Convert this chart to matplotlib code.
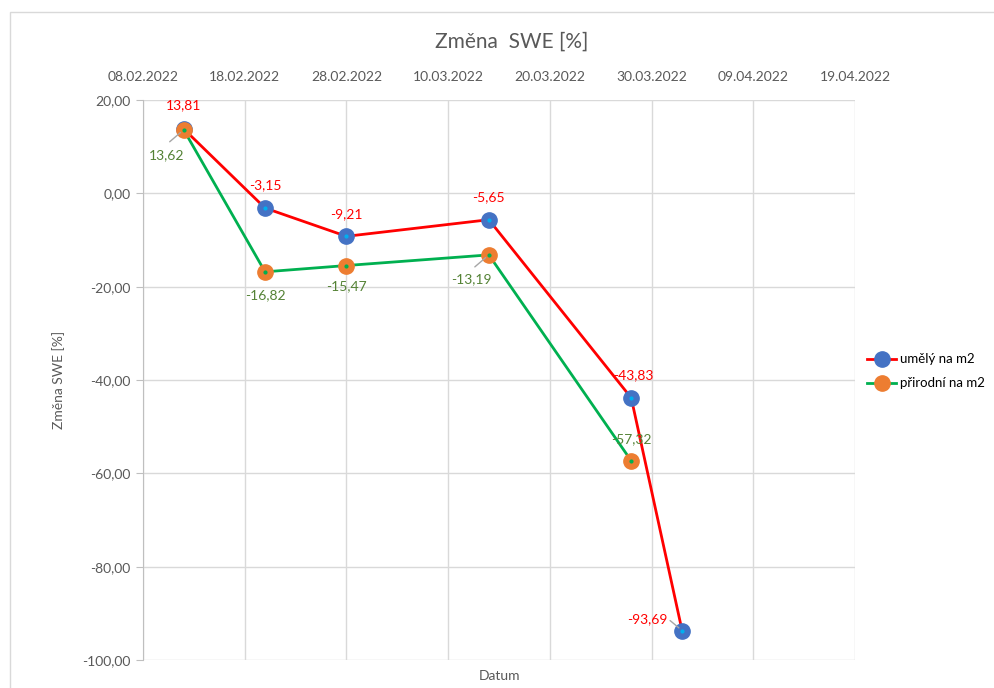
import matplotlib
matplotlib.use("Agg")
import matplotlib.pyplot as plt
import matplotlib.dates as mdates
from matplotlib.ticker import FuncFormatter, MultipleLocator, FixedLocator
from matplotlib.patches import Rectangle
from datetime import datetime, timedelta

plt.rcParams['font.family'] = ['Lato', 'DejaVu Sans']

# data
dates_umely = ["12.02.2022", "20.02.2022", "28.02.2022", "14.03.2022", "28.03.2022", "02.04.2022"]
umely = [13.81, -3.15, -9.21, -5.65, -43.83, -93.69]
dates_prirodni = ["12.02.2022", "20.02.2022", "28.02.2022", "14.03.2022", "28.03.2022"]
prirodni = [13.62, -16.82, -15.47, -13.19, -57.32]

# label offsets (pixels) for data labels
off_umely = [(0, 24), (0, 23), (0, 22), (0, 23), (2, 23), (-35, 11)]
off_prirodni = [(-17, -25), (0, -23), (0, -21), (-17, -24), (0, 22)]

to_dt = lambda s: datetime.strptime(s, "%d.%m.%Y")
x_u = [to_dt(d) for d in dates_umely]
x_p = [to_dt(d) for d in dates_prirodni]

fig = plt.figure(figsize=(9.94, 6.88), dpi=100)
ax = fig.add_axes([143 / 994, 1 - 660 / 688, 712 / 994, 560 / 688])

# outer chart border
fig.patches.append(Rectangle((10 / 994, -0.1), 2, 1.1 - 12 / 688, transform=fig.transFigure,
                             fill=False, edgecolor='#d9d9d9', linewidth=1))

red = '#ff0000'
green = '#00b050'
blue = '#4472c4'
orange = '#ed7d31'

ax.plot(x_u, umely, color=red, lw=2, marker='o', markersize=11,
        markerfacecolor=blue, markeredgecolor=blue, label='umělý na m2', zorder=3)
ax.plot(x_u, umely, ls='none', marker='o', markersize=2, color='#00b0f0', zorder=4)
ax.plot(x_p, prirodni, color=green, lw=2, marker='o', markersize=11,
        markerfacecolor=orange, markeredgecolor=orange, label='přirodní na m2', zorder=5)
ax.plot(x_p, prirodni, ls='none', marker='o', markersize=2, color=green, zorder=6)

fmt = lambda v: f"{v:.2f}".replace('.', ',')
for x, y, o in zip(x_u, umely, off_umely):
    ax.annotate(fmt(y), (x, y), xytext=o, textcoords='offset pixels', ha='center', va='center',
                color=red, fontsize=10, zorder=7)
for x, y, o in zip(x_p, prirodni, off_prirodni):
    ax.annotate(fmt(y), (x, y), xytext=o, textcoords='offset pixels', ha='center', va='center',
                color='#548235', fontsize=10, zorder=7)

# leader lines from labels to points
leaders = [(x_p[0], prirodni[0], (-14, -12)),
           (x_p[3], prirodni[3], (-14, -12)),
           (x_u[5], umely[5], (-12, 10))]
for x, y, a in leaders:
    ax.annotate('', (x, y), xytext=a, textcoords='offset pixels',
                arrowprops=dict(arrowstyle='-', color='#a6a6a6', lw=1, shrinkA=0, shrinkB=3),
                zorder=7)

start = datetime(2022, 2, 8)
ax.set_xlim(start, start + timedelta(days=70))
ax.set_ylim(-100, 20)
ax.xaxis.set_major_locator(FixedLocator([mdates.date2num(start + timedelta(days=10 * i)) for i in range(8)]))
ax.xaxis.set_major_formatter(mdates.DateFormatter('%d.%m.%Y'))
ax.xaxis.tick_top()
ax.yaxis.set_major_locator(MultipleLocator(20))
ax.yaxis.set_major_formatter(FuncFormatter(lambda v, p: fmt(v)))

ax.grid(True, color='#d9d9d9', lw=1)
for s in ['top', 'right', 'bottom']:
    ax.spines[s].set_visible(False)
ax.spines['left'].set_color('#bfbfbf')
ax.tick_params(axis='x', length=0, pad=12, colors='#595959', labelsize=10)
ax.tick_params(axis='y', length=5, color='#bfbfbf', pad=4, labelcolor='#595959', labelsize=10)

ax.set_ylabel('Změna SWE [%]', color='#595959', fontsize=10, labelpad=12)
fig.text(499 / 994, 1 - 676 / 688, 'Datum', ha='center', va='center', color='#595959', fontsize=10)
fig.text(512 / 994, 1 - 42 / 688, 'Změna  SWE [%]', ha='center', va='center', color='#595959', fontsize=15)

fig.legend(loc='upper left', bbox_to_anchor=(862 / 994, 1 - 348 / 688), frameon=False,
           fontsize=9.5, handlelength=2.2, handletextpad=0.3, labelspacing=0.9, borderaxespad=0)

fig.savefig('out.png', dpi=100)
